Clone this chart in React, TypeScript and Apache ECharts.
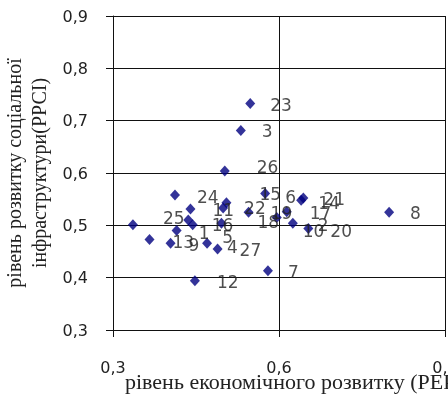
import React, { useEffect, useRef } from "react";
import * as echarts from "echarts";

const pointNames = ["1","2","3","4","5","6","7","8","9","10","11","12","13","14","15","16","17","18","19","20","21","22","23","24","25","26","27"];
const xValues = [0.415,0.625,0.531,0.470,0.436,0.575,0.580,0.799,0.404,0.596,0.440,0.448,0.366,0.640,0.505,0.444,0.614,0.496,0.545,0.653,0.644,0.499,0.548,0.412,0.336,0.502,0.489];
const yValues = [0.490,0.504,0.681,0.466,0.510,0.561,0.413,0.525,0.466,0.515,0.531,0.394,0.473,0.548,0.543,0.501,0.526,0.504,0.525,0.494,0.552,0.533,0.733,0.558,0.501,0.604,0.455];
const yTicks = { min: 0.3, max: 0.9, step: 0.1 };
const xTicks = { min: 0.3, max: 0.9, step: 0.3 };
const xTitle = "рівень економічного розвитку (РЕР)";
const yTitle = "рівень розвитку соціальної\nінфраструктури(РРСІ)";

// label nudges (style only), [dx, dy] in px
const labelNudges: [number, number][] = [
  [2,2],[5,2],[1,0],[0,4],[14,17],[0,4],[0,1],[1,1],[-2,2],[6,14],[2,1],[2,1],[3,3],[-3,3],[13,-9],[-1,0],[3,1],[16,-1],[2,1],[2,3],[0,1],[1,0],[0,2],[2,2],[10,-7],[12,-4],[2,1]
];

const fmt = (v: number) => v.toFixed(1).replace(".", ",");

export default function App() {
  const ref = useRef<HTMLDivElement>(null);
  useEffect(() => {
    if (!ref.current) return;
    const chart = echarts.init(ref.current, null, { renderer: "svg" });
    const data = pointNames.map((n, i) => ({
      name: n,
      value: [xValues[i], yValues[i]],
      label: { offset: labelNudges[i] },
    }));
    const lineStyle = { color: "#111", width: 1 };
    chart.setOption({
      animation: false,
      grid: {
        left: 113,
        right: 3,
        top: 16,
        bottom: 74,
        containLabel: false,
        outerBoundsMode: "none",
      },
      xAxis: {
        type: "value",
        min: xTicks.min,
        max: xTicks.max,
        interval: xTicks.step,
        axisLine: { show: true, lineStyle },
        axisTick: { show: true, length: 7, lineStyle },
        splitLine: { show: true, lineStyle },
        axisLabel: {
          formatter: fmt,
          margin: 29,
          fontFamily: "DejaVu Sans",
          fontSize: 16,
          color: "#222",
          showMaxLabel: true,
          hideOverlap: false,
        },
      },
      yAxis: {
        type: "value",
        min: yTicks.min,
        max: yTicks.max,
        interval: yTicks.step,
        axisLine: { show: true, lineStyle },
        axisTick: { show: true, length: 7, lineStyle },
        splitLine: { show: true, lineStyle },
        axisLabel: {
          formatter: fmt,
          margin: 25,
          fontFamily: "DejaVu Sans",
          fontSize: 16,
          color: "#222",
        },
        name: yTitle,
        nameLocation: "middle",
        nameGap: 58,
        nameTextStyle: {
          fontFamily: "Liberation Serif",
          fontSize: 20,
          lineHeight: 25,
          color: "#222",
          align: "center",
        },
      },
      graphic: [
        {
          type: "text",
          x: 125,
          y: 372,
          scaleX: 1.1,
          style: {
            text: xTitle,
            font: '20px "Liberation Serif"',
            fill: "#222",
          },
        },
      ],
      series: [
        {
          type: "scatter",
          symbol: "diamond",
          symbolSize: [10, 11],
          itemStyle: { color: "#000080" },
          data,
          label: {
            show: true,
            position: "right",
            distance: 15,
            formatter: "{b}",
            fontFamily: "DejaVu Sans",
            fontSize: 17,
            color: "#222",
          },
        },
      ],
    });
    return () => chart.dispose();
  }, []);
  return (
    <div
      ref={ref}
      style={{ position: "fixed", left: 0, top: 0, width: 448, height: 404 }}
    />
  );
}
